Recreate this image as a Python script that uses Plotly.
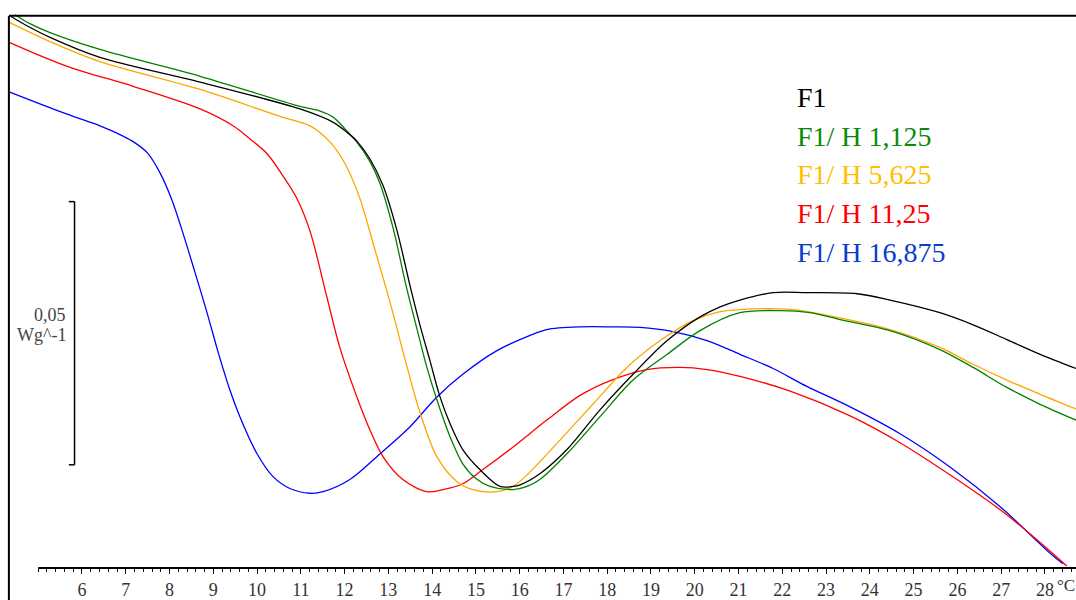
import plotly.graph_objects as go

# DSC heating curves: temperature (°C) vs heat flow (W/g, arbitrary offset)
series_names = ["F1", "F1/ H 1,125", "F1/ H 5,625", "F1/ H 11,25", "F1/ H 16,875"]
line_colors = ["#000000", "#008000", "#FFA500", "#FF0000", "#0000FF"]
label_colors = ["#000000", "#0A8A0A", "#FFBF00", "#FF0000", "#0A3CD2"]

t_f1 = [4.35, 4.70, 5.27, 6.41, 8.70, 10.98, 11.73, 12.05, 12.28, 12.58, 12.88, 13.20,
        13.49, 13.72, 13.95, 14.18, 14.41, 14.70, 15.09, 15.55, 15.85, 16.01, 16.46,
        17.08, 17.83, 18.59, 19.37, 20.12, 20.58, 21.03, 21.79, 22.56, 23.71, 24.46,
        25.60, 26.36, 27.13, 27.89, 28.71]
hf_f1 = [0.1049, 0.1032, 0.1008, 0.0970, 0.0923, 0.0872, 0.0847, 0.0828, 0.0811, 0.0777,
         0.0726, 0.0640, 0.0538, 0.0462, 0.0394, 0.0325, 0.0274, 0.0225, 0.0187, 0.0155,
         0.0155, 0.0158, 0.0179, 0.0225, 0.0300, 0.0368, 0.0432, 0.0477, 0.0496, 0.0509,
         0.0523, 0.0523, 0.0521, 0.0509, 0.0485, 0.0462, 0.0434, 0.0406, 0.0379]

t_h1 = [4.47, 4.81, 5.27, 6.41, 8.70, 10.98, 11.44, 11.73, 12.01, 12.28, 12.58, 12.81,
        13.11, 13.40, 13.63, 13.88, 14.11, 14.41, 14.70, 15.00, 15.32, 15.85, 16.17,
        16.46, 17.08, 17.83, 18.59, 19.37, 20.12, 21.03, 21.95, 22.63, 23.32, 24.46,
        25.60, 26.36, 27.13, 27.89, 28.71]
hf_h1 = [0.1051, 0.1034, 0.1017, 0.0985, 0.0934, 0.0877, 0.0868, 0.0857, 0.0834, 0.0809,
         0.0772, 0.0730, 0.0645, 0.0538, 0.0462, 0.0381, 0.0319, 0.0249, 0.0198, 0.0170,
         0.0155, 0.0149, 0.0155, 0.0168, 0.0217, 0.0287, 0.0357, 0.0406, 0.0451, 0.0485,
         0.0489, 0.0485, 0.0472, 0.0451, 0.0415, 0.0381, 0.0343, 0.0311, 0.0281]

t_h5 = [4.35, 5.27, 6.41, 8.70, 10.52, 11.21, 11.67, 12.01, 12.35, 12.65, 13.04, 13.43,
        13.72, 14.11, 14.57, 14.93, 15.48, 15.85, 16.17, 16.92, 17.67, 18.45, 19.21,
        19.96, 20.58, 21.03, 22.24, 23.32, 24.46, 25.60, 26.36, 27.13, 27.89, 28.71]
hf_h5 = [0.1036, 0.1000, 0.0962, 0.0909, 0.0858, 0.0840, 0.0809, 0.0768, 0.0702, 0.0617,
         0.0504, 0.0381, 0.0296, 0.0211, 0.0164, 0.0149, 0.0145, 0.0155, 0.0177, 0.0243,
         0.0311, 0.0381, 0.0432, 0.0470, 0.0487, 0.0491, 0.0491, 0.0475, 0.0453, 0.0419,
         0.0387, 0.0357, 0.0330, 0.0302]

t_h11 = [4.35, 5.66, 7.17, 8.70, 9.45, 9.84, 10.23, 10.59, 10.91, 11.21, 11.60, 11.89,
         12.28, 12.58, 12.88, 13.33, 13.88, 14.25, 14.70, 15.16, 15.85, 16.62, 17.38,
         18.13, 18.91, 19.66, 20.28, 21.03, 22.18, 23.55, 24.69, 25.83, 26.97, 27.73, 28.50]
hf_h11 = [0.0998, 0.0953, 0.0915, 0.0872, 0.0840, 0.0815, 0.0787, 0.0745, 0.0702, 0.0640,
          0.0513, 0.0419, 0.0325, 0.0262, 0.0211, 0.0168, 0.0145, 0.0149, 0.0160, 0.0187,
          0.0230, 0.0281, 0.0328, 0.0358, 0.0377, 0.0381, 0.0377, 0.0364, 0.0336, 0.0289,
          0.0238, 0.0177, 0.0111, 0.0060, 0.0004]

t_h16 = [4.35, 5.66, 6.41, 6.80, 7.15, 7.49, 7.78, 8.05, 8.30, 8.58, 8.85, 9.10, 9.38,
         9.61, 10.00, 10.36, 10.75, 11.21, 11.51, 12.12, 12.81, 13.49, 14.11, 14.70,
         15.48, 16.24, 16.62, 17.38, 18.13, 18.75, 19.50, 20.28, 21.03, 21.79, 22.56,
         23.55, 24.69, 25.83, 26.97, 28.12, 28.41]
hf_h16 = [0.0904, 0.0862, 0.0840, 0.0826, 0.0811, 0.0789, 0.0751, 0.0700, 0.0638, 0.0562,
          0.0487, 0.0413, 0.0338, 0.0287, 0.0217, 0.0174, 0.0151, 0.0142, 0.0145, 0.0168,
          0.0217, 0.0268, 0.0325, 0.0368, 0.0413, 0.0442, 0.0453, 0.0458, 0.0458, 0.0457,
          0.0449, 0.0432, 0.0406, 0.0379, 0.0345, 0.0306, 0.0255, 0.0192, 0.0117, 0.0028,
          0.0008]

temps = [t_f1, t_h1, t_h5, t_h11, t_h16]
flows = [hf_f1, hf_h1, hf_h5, hf_h11, hf_h16]

tick_values = list(range(6, 29))
tick_labels = [str(v) for v in tick_values]

# heat-flow scale bar
scale_bar = 0.05
scale_base = 0.0196
scale_x = 5.83

X_RANGE = [4.127, 28.71]
Y_RANGE = [0.0, 0.1079]
FONT = "Liberation Serif, Times New Roman, serif"

fig = go.Figure()
# draw in reverse so F1 ends up on top
for name, t, hf, col in reversed(list(zip(series_names, temps, flows, line_colors))):
    fig.add_trace(go.Scatter(x=t, y=hf, mode="lines", name=name,
                             line=dict(color=col, width=1.3, shape="spline", smoothing=0.9),
                             showlegend=False))

minor_vals = [round(5.0 + 0.2 * i, 1) for i in range(0, 119)]

fig.update_layout(
    width=1076, height=600,
    margin=dict(l=0, r=0, t=0, b=28),
    paper_bgcolor="white", plot_bgcolor="white",
    font=dict(family=FONT, color="#222222"),
    xaxis=dict(range=X_RANGE, showgrid=False, zeroline=False, showline=False,
               tickmode="array", tickvals=tick_values, ticktext=tick_labels,
               ticks="outside", ticklen=5, tickwidth=1, tickcolor="#000000",
               tickfont=dict(family=FONT, size=18, color="#333333"),
               minor=dict(tickmode="array", tickvals=minor_vals, ticks="outside",
                          ticklen=3, tickwidth=1, tickcolor="#000000", showgrid=False)),
    yaxis=dict(range=Y_RANGE, visible=False, showgrid=False, zeroline=False),
)

# frame: bottom axis line, top border, left border
fig.add_shape(type="line", xref="x", yref="paper", x0=5.0, x1=X_RANGE[1], y0=0, y1=0,
              line=dict(color="#000000", width=2))
fig.add_shape(type="line", xref="x", yref="y", x0=4.33, x1=X_RANGE[1], y0=0.1049, y1=0.1049,
              line=dict(color="#000000", width=2))
fig.add_shape(type="line", xref="x", yref="paper", x0=4.33, x1=4.33, y0=-0.06, y1=(572 - 16) / 572,
              line=dict(color="#000000", width=2))

# scale bar "]"
sb_line = dict(color="#000000", width=1.5)
fig.add_shape(type="line", xref="x", yref="y", x0=scale_x, x1=scale_x,
              y0=scale_base, y1=scale_base + scale_bar, line=sb_line)
fig.add_shape(type="line", xref="x", yref="y", x0=scale_x - 0.13, x1=scale_x,
              y0=scale_base + scale_bar, y1=scale_base + scale_bar, line=sb_line)
fig.add_shape(type="line", xref="x", yref="y", x0=scale_x - 0.13, x1=scale_x,
              y0=scale_base, y1=scale_base, line=sb_line)
scale_font = dict(family=FONT, size=18, color="#444444")
fig.add_annotation(x=scale_x - 0.16, y=scale_base + scale_bar * 0.57, xref="x", yref="y",
                   text="0,05", showarrow=False, xanchor="right", yanchor="middle",
                   font=scale_font)
fig.add_annotation(x=scale_x - 0.16, y=scale_base + scale_bar * 0.495, xref="x", yref="y",
                   text="Wg^-1", showarrow=False, xanchor="right", yanchor="middle",
                   font=scale_font)

# unit at the end of the temperature axis
fig.add_annotation(x=1055 / 1076, y=-18 / 572, xref="paper", yref="paper", text="°C",
                   showarrow=False, xanchor="left", yanchor="middle",
                   font=dict(family=FONT, size=17, color="#333333"))

# coloured series labels
for i, (name, col) in enumerate(zip(series_names, label_colors)):
    fig.add_annotation(x=795 / 1076, y=(572 - 98 - 39 * i) / 572, xref="paper", yref="paper",
                       text=name, showarrow=False, xanchor="left", yanchor="middle",
                       font=dict(family=FONT, size=28, color=col))

fig.write_html("out.html")
